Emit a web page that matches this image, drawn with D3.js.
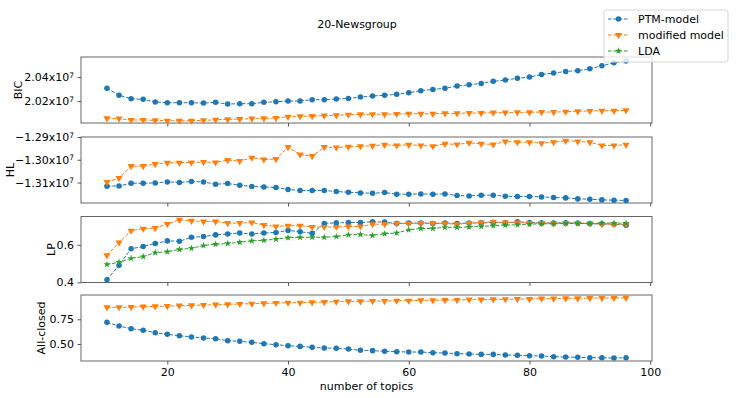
<!DOCTYPE html>
<html>
<head>
<meta charset="utf-8">
<script src="https://cdn.jsdelivr.net/npm/d3@7"></script>
<style>
  body { margin: 0; background: #fff; }
  text { font-family: "DejaVu Sans", sans-serif; fill: #000; }
</style>
</head>
<body>
<div class="svg-container"></div>
<script>
// number of topics on the x axis
var topics = [10, 12, 14, 16, 18, 20, 22, 24, 26, 28, 30, 32, 34, 36, 38, 40, 42, 44, 46, 48, 50, 52,
  54, 56, 58, 60, 62, 64, 66, 68, 70, 72, 74, 76, 78, 80, 82, 84, 86, 88, 90, 92, 94, 96];

var seriesNames = ['PTM-model', 'modified model', 'LDA'];
var xTicks = [20, 40, 60, 80, 100];

// BIC (x 1e7)
var bicPtm = [2.0306, 2.0248, 2.0219, 2.0214, 2.0192, 2.0186, 2.0186, 2.0186, 2.0183, 2.0189, 2.0175,
  2.0178, 2.0178, 2.0189, 2.0194, 2.0200, 2.0200, 2.0211, 2.0211, 2.0217, 2.0222, 2.0233, 2.0242,
  2.0248, 2.0256, 2.0269, 2.0286, 2.0297, 2.0306, 2.0325, 2.0336, 2.0347, 2.0364, 2.0375, 2.0389,
  2.0400, 2.0422, 2.0433, 2.0447, 2.0453, 2.0469, 2.0494, 2.0519, 2.0533];
var bicModified = [2.0056, 2.0053, 2.0042, 2.0042, 2.0039, 2.0036, 2.0036, 2.0036, 2.0039, 2.0044, 2.0047,
  2.0050, 2.0053, 2.0056, 2.0058, 2.0069, 2.0072, 2.0075, 2.0078, 2.0081, 2.0086, 2.0089, 2.0090,
  2.0089, 2.0092, 2.0094, 2.0094, 2.0094, 2.0097, 2.0097, 2.0100, 2.0100, 2.0103, 2.0103, 2.0106,
  2.0106, 2.0108, 2.0108, 2.0111, 2.0114, 2.0117, 2.0119, 2.0119, 2.0122];

// HL (x 1e7)
var hlPtm = [-1.31162, -1.31149, -1.31031, -1.31031, -1.31018, -1.30974, -1.31000, -1.30956, -1.30974,
  -1.31075, -1.31044, -1.31118, -1.31175, -1.31193, -1.31219, -1.31307, -1.31351, -1.31351, -1.31351,
  -1.31395, -1.31425, -1.31456, -1.31469, -1.31439, -1.31513, -1.31513, -1.31500, -1.31513, -1.31500,
  -1.31570, -1.31588, -1.31557, -1.31557, -1.31601, -1.31614, -1.31614, -1.31632, -1.31658, -1.31675,
  -1.31719, -1.31732, -1.31763, -1.31776, -1.31789];
var hlModified = [-1.30982, -1.30807, -1.30281, -1.30281, -1.30193, -1.30132, -1.30132, -1.30118, -1.30105,
  -1.30118, -1.30018, -1.30061, -1.29912, -1.29987, -1.29974, -1.29447, -1.29768, -1.29842, -1.29447,
  -1.29461, -1.29430, -1.29404, -1.29386, -1.29342, -1.29373, -1.29342, -1.29373, -1.29404, -1.29298,
  -1.29329, -1.29254, -1.29298, -1.29329, -1.29197, -1.29228, -1.29228, -1.29272, -1.29228, -1.29167,
  -1.29197, -1.29228, -1.29373, -1.29373, -1.29342];

// LP
var lpPtm = [0.414, 0.491, 0.579, 0.591, 0.607, 0.621, 0.619, 0.640, 0.644, 0.653, 0.658, 0.663, 0.658,
  0.663, 0.666, 0.677, 0.670, 0.661, 0.714, 0.717, 0.719, 0.719, 0.723, 0.721, 0.714, 0.716, 0.716,
  0.714, 0.716, 0.714, 0.716, 0.717, 0.719, 0.717, 0.723, 0.719, 0.717, 0.716, 0.717, 0.716, 0.712,
  0.712, 0.710, 0.705];
var lpModified = [0.544, 0.612, 0.675, 0.686, 0.689, 0.711, 0.733, 0.728, 0.724, 0.724, 0.716, 0.716, 0.719,
  0.705, 0.698, 0.702, 0.702, 0.695, 0.695, 0.695, 0.697, 0.698, 0.710, 0.710, 0.714, 0.714, 0.716,
  0.716, 0.714, 0.710, 0.716, 0.719, 0.723, 0.719, 0.719, 0.716, 0.716, 0.714, 0.716, 0.716, 0.714,
  0.710, 0.709, 0.710];
var lpLda = [0.495, 0.507, 0.528, 0.537, 0.558, 0.563, 0.575, 0.582, 0.596, 0.603, 0.607, 0.614, 0.621,
  0.624, 0.630, 0.638, 0.640, 0.640, 0.640, 0.644, 0.653, 0.655, 0.650, 0.659, 0.663, 0.680, 0.687,
  0.687, 0.693, 0.693, 0.695, 0.698, 0.702, 0.705, 0.707, 0.710, 0.712, 0.712, 0.714, 0.714, 0.714,
  0.716, 0.716, 0.716];

// All-closed
var closedPtm = [0.719, 0.682, 0.655, 0.639, 0.615, 0.598, 0.584, 0.571, 0.561, 0.554, 0.534, 0.527, 0.517,
  0.503, 0.493, 0.483, 0.476, 0.466, 0.460, 0.456, 0.449, 0.436, 0.433, 0.426, 0.422, 0.419, 0.419,
  0.412, 0.409, 0.402, 0.399, 0.395, 0.395, 0.389, 0.385, 0.382, 0.379, 0.372, 0.368, 0.365, 0.362,
  0.360, 0.358, 0.360];
var closedModified = [0.871, 0.871, 0.874, 0.878, 0.881, 0.884, 0.888, 0.891, 0.895, 0.898, 0.901, 0.905,
  0.908, 0.911, 0.915, 0.918, 0.918, 0.922, 0.925, 0.928, 0.932, 0.932, 0.935, 0.935, 0.938, 0.938,
  0.942, 0.942, 0.945, 0.945, 0.949, 0.949, 0.952, 0.952, 0.955, 0.955, 0.959, 0.959, 0.962, 0.962,
  0.965, 0.965, 0.966, 0.967];

var colours = ['#1f77b4', '#ff7f0e', '#2ca02c'];

var width = 736;
var height = 398;
var left = 81;
var right = 652;
var panelHeight = 66;
var fontSize = '11px';

var panels = [
  { label: 'BIC', labelX: 18, top: 57, domain: [2.0017, 2.0567], ticks: [2.02, 2.04], sci: true,
    series: [bicPtm, bicModified] },
  { label: 'HL', labelX: 10, top: 137, domain: [-1.3190, -1.2900], ticks: [-1.31, -1.30, -1.29], sci: true,
    series: [hlPtm, hlModified] },
  { label: 'LP', labelX: 51, top: 216.5, domain: [0.399, 0.751], ticks: [0.4, 0.6], fmt: '.1f',
    series: [lpPtm, lpModified, lpLda] },
  { label: 'All-closed', labelX: 41, top: 295, domain: [0.328, 0.996], ticks: [0.5, 0.75], fmt: '.2f',
    series: [closedPtm, closedModified] }
];

// Create SVG element
var svg = d3.select('.svg-container')
  .append('svg')
  .attr('width', width)
  .attr('height', height);

var xScale = d3.scaleLinear()
  .domain([5.7, 100.3])
  .range([left, right]);

var symbols = [
  d3.symbol().type(d3.symbolCircle).size(24),
  d3.symbol().type(d3.symbolTriangle).size(22),
  d3.symbol().type(d3.symbolStar).size(16)
];

function fmtMinus(s) {
  return s.replace('-', '\u2212');
}

panels.forEach(function(p, pi) {
  var yScale = d3.scaleLinear()
    .domain(p.domain)
    .range([p.top + panelHeight, p.top]);

  var g = svg.append('g');

  // Frame
  g.append('rect')
    .attr('x', left)
    .attr('y', p.top)
    .attr('width', right - left)
    .attr('height', panelHeight)
    .attr('fill', 'none')
    .attr('stroke', '#666')
    .attr('stroke-width', 1);

  // X axis ticks (labels only on the last panel)
  var xAxis = g.append('g')
    .attr('transform', 'translate(0,' + (p.top + panelHeight) + ')')
    .call(d3.axisBottom(xScale).tickValues(xTicks).tickSize(3.5).tickPadding(3.5)
      .tickFormat(pi === panels.length - 1 ? d3.format('d') : function() { return ''; }));
  xAxis.select('.domain').remove();
  xAxis.selectAll('line').attr('stroke', '#555');
  xAxis.selectAll('text').attr('font-size', fontSize).attr('font-family', 'DejaVu Sans');

  // Y axis
  var yAxis = g.append('g')
    .attr('transform', 'translate(' + left + ',0)')
    .call(d3.axisLeft(yScale).tickValues(p.ticks).tickSize(3.5).tickPadding(3.5)
      .tickFormat(p.sci ? function(d) { return d.toFixed(2); } : d3.format(p.fmt)));
  yAxis.select('.domain').remove();
  yAxis.selectAll('line').attr('stroke', '#555');
  yAxis.selectAll('text').attr('font-size', fontSize).attr('font-family', 'DejaVu Sans');

  if (p.sci) {
    yAxis.selectAll('.tick text').each(function(d) {
      var t = d3.select(this);
      t.text(null);
      t.append('tspan').text(fmtMinus(d.toFixed(2)) + 'x10');
      t.append('tspan').attr('dy', '-0.45em').attr('font-size', '7.5px').text('7');
    });
  } else {
    yAxis.selectAll('.tick text').each(function() {
      var t = d3.select(this);
      t.text(fmtMinus(t.text()));
    });
  }

  // Y label
  g.append('text')
    .attr('transform', 'translate(' + p.labelX + ',' + (p.top + panelHeight / 2) + ') rotate(-90)')
    .attr('text-anchor', 'middle')
    .attr('dominant-baseline', 'central')
    .attr('font-size', fontSize)
    .text(p.label);

  // Lines and markers
  var line = d3.line()
    .x(function(d, i) { return xScale(topics[i]); })
    .y(function(d) { return yScale(d); });

  p.series.forEach(function(values, si) {
    g.append('path')
      .datum(values)
      .attr('d', line)
      .attr('fill', 'none')
      .attr('stroke', colours[si])
      .attr('stroke-width', 1)
      .attr('stroke-dasharray', '3.7,1.6');

    g.selectAll('.m' + si)
      .data(values)
      .enter()
      .append('path')
      .attr('class', 'm' + si)
      .attr('d', symbols[si])
      .attr('fill', colours[si])
      .attr('transform', function(d, i) {
        return 'translate(' + xScale(topics[i]) + ',' + yScale(d) + ')' + (si === 1 ? ' rotate(180)' : '');
      });
  });
});

// X label
svg.append('text')
  .attr('x', (left + right) / 2)
  .attr('y', 390)
  .attr('text-anchor', 'middle')
  .attr('font-size', fontSize)
  .text('number of topics');

// Title
svg.append('text')
  .attr('x', 357)
  .attr('y', 28)
  .attr('text-anchor', 'middle')
  .attr('font-size', fontSize)
  .text('20-Newsgroup');

// Legend
var legend = svg.append('g');
legend.append('rect')
  .attr('x', 604)
  .attr('y', 10)
  .attr('width', 124)
  .attr('height', 52)
  .attr('rx', 2)
  .attr('fill', '#fff')
  .attr('fill-opacity', 0.8)
  .attr('stroke', '#d6d6d6');

var items = legend.selectAll('g.item')
  .data(seriesNames)
  .enter()
  .append('g')
  .attr('class', 'item')
  .attr('transform', function(d, i) { return 'translate(608,' + (19 + i * 16) + ')'; });

items.append('line')
  .attr('x1', 0)
  .attr('x2', 21)
  .attr('stroke', function(d, i) { return colours[i]; })
  .attr('stroke-width', 1)
  .attr('stroke-dasharray', '3.7,1.6');

items.append('path')
  .attr('d', function(d, i) { return symbols[i](); })
  .attr('fill', function(d, i) { return colours[i]; })
  .attr('transform', function(d, i) { return 'translate(10.5,0)' + (i === 1 ? ' rotate(180)' : ''); });

items.append('text')
  .attr('x', 30)
  .attr('y', 0)
  .attr('dominant-baseline', 'central')
  .attr('font-size', fontSize)
  .text(function(d) { return d; });
</script>
</body>
</html>
